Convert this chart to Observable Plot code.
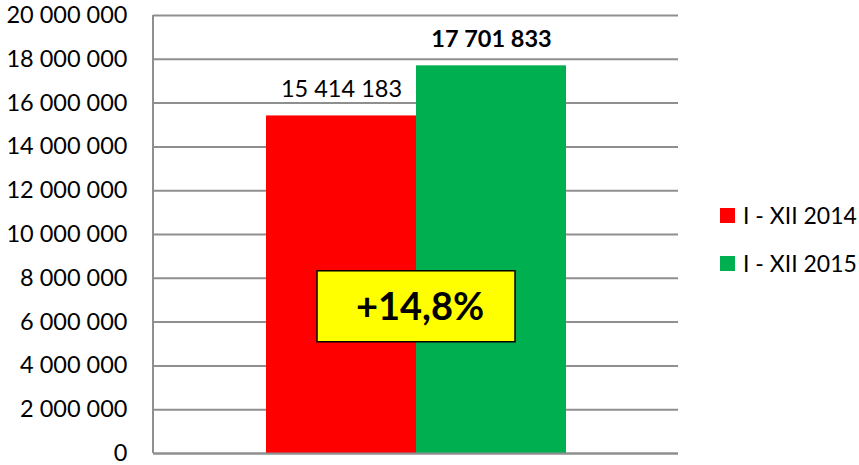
<!DOCTYPE html>
<html>
<head>
<meta charset="utf-8">
<script src="https://cdn.jsdelivr.net/npm/d3@7"></script>
<script src="https://cdn.jsdelivr.net/npm/@observablehq/plot@0.6"></script>
<style>
  body { margin: 0; background: #fff; }
  #wrap { position: relative; width: 859px; height: 465px; font-family: Lato, "Open Sans", sans-serif; }
  #wrap svg { display: block; }
  .legend { position: absolute; left: 720px; top: 191px; font-size: 23px; color: #000; line-height: 48px; }
  .legend .item { display: flex; align-items: center; white-space: nowrap; }
  .legend .sw { width: 15px; height: 15px; margin-right: 8px; flex: none; }
</style>
</head>
<body>
<div id="wrap"></div>
<script>
// ---- data ----
const series = ["I - XII 2014", "I - XII 2015"];
const values = [15414183, 17701833];
const colors = ["#FF0000", "#00B050"];
const yTicks = [0, 2000000, 4000000, 6000000, 8000000, 10000000, 12000000, 14000000, 16000000, 18000000, 20000000];

const rows = series.map((s, i) => ({series: s, value: values[i], color: colors[i]}));
const fmt = d => d3.format(",")(d).replace(/,/g, " ");
const pct = ((values[1] / values[0] - 1) * 100).toFixed(1).replace(".", ",");
const changeLabel = (pct[0] === "-" ? "" : "+") + pct + "%";
const boxValue = 6700000; // vertical anchor of the annotation box (data units)

const gridColor = "#8F8F8F";

function leftLine(index, scales, values, dims) {
  const {marginLeft, marginTop, height, marginBottom} = dims;
  const line = d3.create("svg:line")
    .attr("x1", marginLeft).attr("x2", marginLeft)
    .attr("y1", marginTop).attr("y2", height - marginBottom)
    .attr("stroke", gridColor).attr("stroke-width", 2);
  return line.node();
}

function changeBox(index, scales, values, dims) {
  const cx = scales.x(series[1]);
  const cy = scales.y(boxValue);
  const w = 198, h = 71;
  const g = d3.create("svg:g");
  g.append("rect")
    .attr("x", cx - w / 2).attr("y", cy - h / 2)
    .attr("width", w).attr("height", h)
    .attr("fill", "#FFFF00").attr("stroke", "#000").attr("stroke-width", 1.5);
  g.append("text")
    .attr("x", cx + 4).attr("y", cy).attr("dy", "0.35em")
    .attr("text-anchor", "middle")
    .attr("font-size", 38).attr("font-weight", "bold")
    .attr("fill", "#000")
    .text(changeLabel);
  return g.node();
}

const chart = Plot.plot({
  width: 859,
  height: 465,
  marginLeft: 153,
  marginRight: 181,
  marginTop: 15,
  marginBottom: 12,
  style: {fontFamily: "Lato, 'Open Sans', sans-serif", fontSize: "23.5px", color: "#000", background: "#fff"},
  x: {domain: series, axis: null, paddingInner: 0, paddingOuter: 0.744},
  y: {domain: [0, 20000000], ticks: yTicks, tickFormat: fmt, tickSize: 0, tickPadding: 26, label: null},
  color: {domain: series, range: colors},
  marks: [
    Plot.ruleY(yTicks, {stroke: gridColor, strokeWidth: 2}),
    leftLine,
    Plot.barY(rows, {x: "series", y: "value", fill: "color"}),
    Plot.ruleY([0], {stroke: gridColor, strokeWidth: 2}),
    Plot.text(rows.filter((d, i) => i === 0), {x: "series", y: "value", text: d => fmt(d.value), dy: -26, lineAnchor: "middle", fill: "#000", fontSize: 23.5}),
    Plot.text(rows.filter((d, i) => i === 1), {x: "series", y: "value", text: d => fmt(d.value), dy: -26, lineAnchor: "middle", fill: "#000", fontSize: 23.5, fontWeight: "bold"}),
    changeBox
  ]
});

const wrap = document.getElementById("wrap");
wrap.appendChild(chart);

const legend = document.createElement("div");
legend.className = "legend";
series.forEach((s, i) => {
  const item = document.createElement("div");
  item.className = "item";
  const sw = document.createElement("span");
  sw.className = "sw";
  sw.style.background = colors[i];
  const t = document.createElement("span");
  t.textContent = s;
  item.appendChild(sw);
  item.appendChild(t);
  legend.appendChild(item);
});
wrap.appendChild(legend);
</script>
</body>
</html>
